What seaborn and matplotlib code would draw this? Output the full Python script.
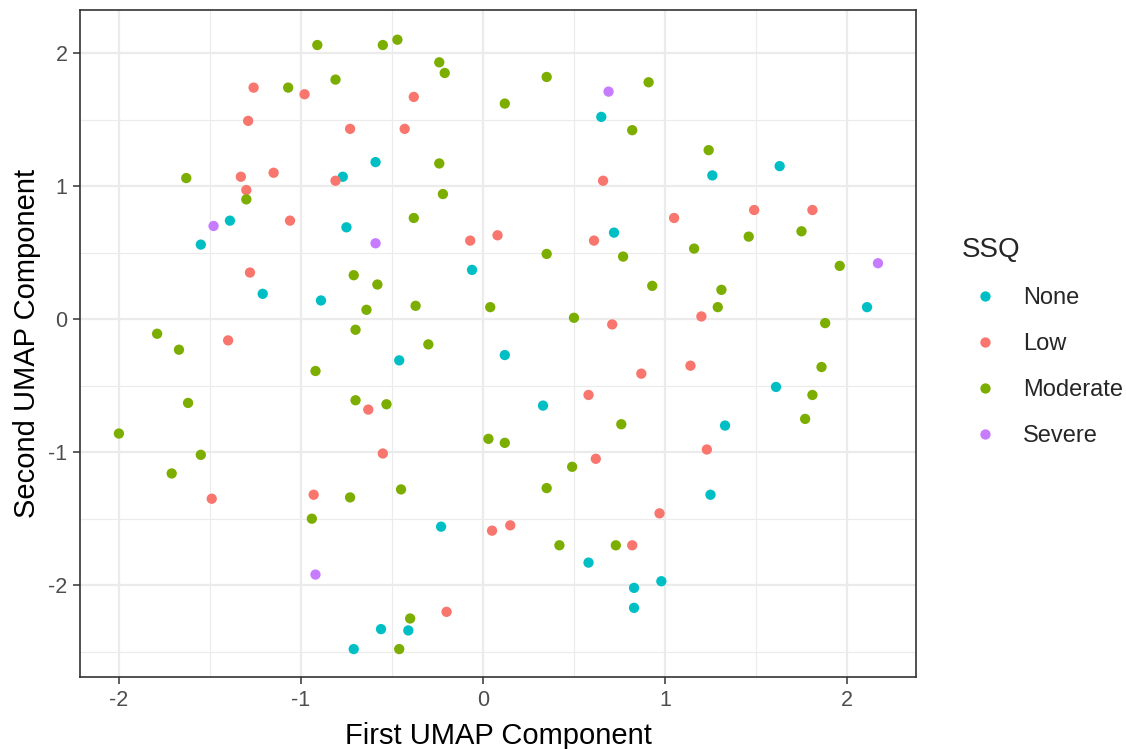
import numpy as np
import pandas as pd
import matplotlib
matplotlib.use("Agg")
import matplotlib.pyplot as plt
import seaborn as sns
from matplotlib.ticker import MultipleLocator

# UMAP embedding coordinates, grouped by SSQ severity level
none_x = [-0.77, -1.39, -0.75, -1.55, -1.21, -0.89, 0.65, -0.59, 0.72, -0.06, 1.26, 1.63, 2.11,
          -0.71, -0.46, 0.12, 0.33, -0.23, 0.58, 0.83, 0.83, -0.56, -0.41, 1.61, 1.33, 1.25, 0.98]
none_y = [1.07, 0.74, 0.69, 0.56, 0.19, 0.14, 1.52, 1.18, 0.65, 0.37, 1.08, 1.15, 0.09,
          -2.48, -0.31, -0.27, -0.65, -1.56, -1.83, -2.02, -2.17, -2.33, -2.34, -0.51, -0.80, -1.32, -1.97]

low_x = [-1.26, -0.98, -1.29, -0.73, -1.33, -1.15, -0.81, -1.30, -1.06, -1.28, -1.40, -0.38,
         -0.43, 0.66, -0.07, 0.08, 0.61, 0.71, 1.05, 1.49, 1.81, 1.20, -1.49, -0.93, -0.63,
         -0.55, 0.58, 0.62, 0.05, 0.15, 0.82, -0.20, 0.87, 1.14, 1.23, 0.97]
low_y = [1.74, 1.69, 1.49, 1.43, 1.07, 1.10, 1.04, 0.97, 0.74, 0.35, -0.16, 1.67,
         1.43, 1.04, 0.59, 0.63, 0.59, -0.04, 0.76, 0.82, 0.82, 0.02, -1.35, -1.32, -0.68,
         -1.01, -0.57, -1.05, -1.59, -1.55, -1.70, -2.20, -0.41, -0.35, -0.98, -1.46]

mod_x = [-0.91, -0.81, -1.07, -1.63, -1.30, -0.71, -1.79, -0.70, -0.55, -0.47, -0.24, -0.21,
         0.35, 0.12, 0.82, -0.24, -0.22, -0.38, 0.35, 0.77, -0.58, -0.64, -0.37, 0.04, 0.50,
         -0.30, 0.91, 1.24, 1.75, 1.46, 1.16, 1.96, 0.93, 1.31, 1.29, 1.88, -1.67, -0.92,
         -1.62, -0.70, -2.00, -1.55, -1.71, -0.73, -0.94, -0.53, -0.45, 0.03, 0.12, 0.76,
         0.49, 0.35, 0.42, 0.73, -0.40, -0.46, 1.86, 1.81, 1.77]
mod_y = [2.06, 1.80, 1.74, 1.06, 0.90, 0.33, -0.11, -0.08, 2.06, 2.10, 1.93, 1.85,
         1.82, 1.62, 1.42, 1.17, 0.94, 0.76, 0.49, 0.47, 0.26, 0.07, 0.10, 0.09, 0.01,
         -0.19, 1.78, 1.27, 0.66, 0.62, 0.53, 0.40, 0.25, 0.22, 0.09, -0.03, -0.23, -0.39,
         -0.63, -0.61, -0.86, -1.02, -1.16, -1.34, -1.50, -0.64, -1.28, -0.90, -0.93, -0.79,
         -1.11, -1.27, -1.70, -1.70, -2.25, -2.48, -0.36, -0.57, -0.75]

sev_x = [-1.48, 0.69, -0.59, 2.17, -0.92]
sev_y = [0.70, 1.71, 0.57, 0.42, -1.92]

levels = ["None", "Low", "Moderate", "Severe"]
palette = ["#00BFC4", "#F8766D", "#7CAE00", "#C77CFF"]

df = pd.concat([
    pd.DataFrame({"x": none_x, "y": none_y, "SSQ": "None"}),
    pd.DataFrame({"x": low_x, "y": low_y, "SSQ": "Low"}),
    pd.DataFrame({"x": mod_x, "y": mod_y, "SSQ": "Moderate"}),
    pd.DataFrame({"x": sev_x, "y": sev_y, "SSQ": "Severe"}),
], ignore_index=True)

sns.set_theme(style="whitegrid")
plt.rcParams["font.family"] = ["Liberation Sans", "DejaVu Sans"]
plt.rcParams["axes.unicode_minus"] = False

fig = plt.figure(figsize=(11.26, 7.49), dpi=100)
ax = fig.add_axes([0.071, 0.0961, 0.7425, 0.8905])

sns.scatterplot(data=df, x="x", y="y", hue="SSQ", hue_order=levels,
                palette=dict(zip(levels, palette)), s=55, linewidth=0,
                ax=ax, zorder=3)

ax.set_xlim(-2.214, 2.379)
ax.set_ylim(-2.69, 2.323)
ax.xaxis.set_major_locator(MultipleLocator(1))
ax.yaxis.set_major_locator(MultipleLocator(1))
ax.xaxis.set_minor_locator(MultipleLocator(0.5))
ax.yaxis.set_minor_locator(MultipleLocator(0.5))
ax.grid(which="major", color="#EBEBEB", linewidth=1.6)
ax.grid(which="minor", color="#EBEBEB", linewidth=0.8)
ax.set_axisbelow(True)
ax.set_facecolor("white")

for sp in ax.spines.values():
    sp.set_color("#333333")
    sp.set_linewidth(1.2)

ax.tick_params(axis="both", which="major", direction="out", length=5, width=1.1,
               color="#333333", labelcolor="#4D4D4D", labelsize=15.5, pad=4,
               bottom=True, left=True)
ax.tick_params(axis="both", which="minor", length=0)

ax.set_xlabel("First UMAP Component", fontsize=21, color="black", labelpad=8)
ax.set_ylabel("Second UMAP Component", fontsize=21, color="black", labelpad=5)

leg = ax.legend(title="SSQ", loc="upper left", bbox_to_anchor=(1.043, 0.674),
                frameon=False, fontsize=17, title_fontsize=20,
                markerscale=1.0, handlelength=2.0, handletextpad=0.6,
                labelspacing=1.02, borderaxespad=0)
leg._legend_box.align = "left"

fig.savefig("out.png", dpi=100)
